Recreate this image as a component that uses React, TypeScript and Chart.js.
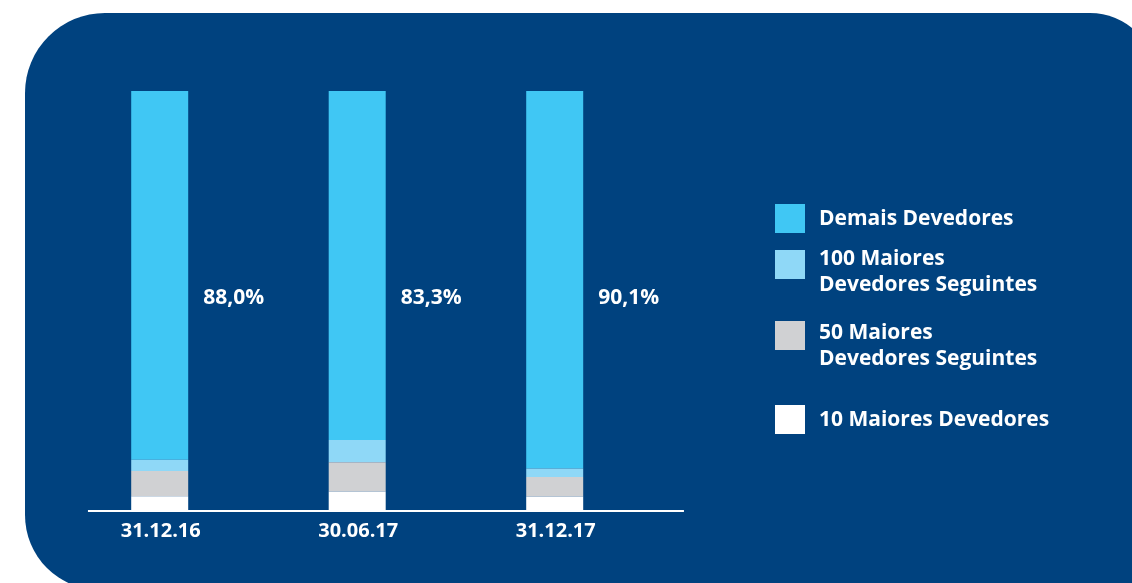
import React, { useEffect, useRef } from "react";
import { Chart, registerables } from "chart.js";

Chart.register(...registerables);

const categories = ["31.12.16", "30.06.17", "31.12.17"];
const top10 = [3.3, 4.4, 3.2];
const top50 = [6.0, 7.0, 4.7];
const top100 = [2.7, 5.3, 2.0];
const demais = [88.0, 83.3, 90.1];

const seriesNames = [
  "10 Maiores Devedores",
  "50 Maiores Devedores Seguintes",
  "100 Maiores Devedores Seguintes",
  "Demais Devedores",
];
const seriesColors = ["#FFFFFF", "#D0D1D3", "#8FD8F7", "#40C7F4"];

const FONT = "'Open Sans', sans-serif";
const BG = "#00427F";

export default function App() {
  const canvasRef = useRef<HTMLCanvasElement | null>(null);

  useEffect(() => {
    if (!canvasRef.current) return;
    const labelPlugin = {
      id: "labels",
      afterDatasetsDraw(chart: any) {
        const ctx = chart.ctx;
        const x = chart.scales.x;
        const y = chart.scales.y;
        const area = chart.chartArea;
        ctx.save();
        ctx.strokeStyle = "#FFFFFF";
        ctx.lineWidth = 2;
        ctx.beginPath();
        ctx.moveTo(area.left + 27, area.bottom + 1);
        ctx.lineTo(area.right + 30.5, area.bottom + 1);
        ctx.stroke();
        ctx.fillStyle = "#FFFFFF";
        ctx.textBaseline = "middle";
        const meta = chart.getDatasetMeta(3);
        categories.forEach((c, i) => {
          const px = x.getPixelForValue(i);
          ctx.font = `700 20px ${FONT}`;
          ctx.textAlign = "center";
          ctx.fillText(c, px + 1, area.bottom + 21);
          const bar = meta.data[i];
          ctx.font = `700 21px ${FONT}`;
          ctx.textAlign = "left";
          ctx.fillText(
            demais[i].toFixed(1).replace(".", ",") + "%",
            bar.x + bar.width / 2 + 15,
            y.getPixelForValue(50) - 2
          );
        });
        ctx.restore();
      },
    };
    const chart = new Chart(canvasRef.current, {
      type: "bar",
      data: {
        labels: categories,
        datasets: [top10, top50, top100, demais].map((d, i) => ({
          label: seriesNames[i],
          data: d,
          backgroundColor: seriesColors[i],
          borderWidth: 0,
          categoryPercentage: 1,
          barPercentage: 0.2886,
        })),
      },
      options: {
        responsive: false,
        animation: false,
        layout: { padding: { left: 60.95, right: 478.55, top: 91, bottom: 73 } },
        plugins: { legend: { display: false }, tooltip: { enabled: false } },
        scales: {
          x: { stacked: true, display: false },
          y: { stacked: true, display: false, min: 0, max: 100 },
        },
      },
      plugins: [labelPlugin],
    });
    return () => chart.destroy();
  }, []);

  const legendItems = [
    { idx: 3, boxTop: 204, textTop: 204, lines: ["Demais Devedores"] },
    { idx: 2, boxTop: 250, textTop: 244, lines: ["100 Maiores", "Devedores Seguintes"] },
    { idx: 1, boxTop: 321, textTop: 318, lines: ["50 Maiores", "Devedores Seguintes"] },
    { idx: 0, boxTop: 405, textTop: 405, lines: ["10 Maiores Devedores"] },
  ];

  return (
    <div style={{ position: "fixed", left: 0, top: 0, width: 1132, height: 583, background: "#FFFFFF", overflow: "hidden" }}>
      <div
        style={{
          position: "absolute",
          left: 25,
          top: 13,
          width: 1131,
          height: 577,
          background: BG,
          borderRadius: "80px 66px 0 75px",
        }}
      />
      <canvas ref={canvasRef} width={1132} height={583} style={{ position: "absolute", left: 0, top: 0 }} />
      {legendItems.map((it) => (
        <React.Fragment key={it.idx}>
          <div
            style={{
              position: "absolute",
              left: 775,
              top: it.boxTop,
              width: 30,
              height: 29,
              background: seriesColors[it.idx],
            }}
          />
          <div
            style={{
              position: "absolute",
              left: 819,
              top: it.textTop,
              color: "#FFFFFF",
              fontFamily: FONT,
              fontWeight: 700,
              fontSize: 21,
              lineHeight: "26px",
              whiteSpace: "nowrap",
            }}
          >
            {it.lines.map((l, k) => (
              <div key={k}>{l}</div>
            ))}
          </div>
        </React.Fragment>
      ))}
    </div>
  );
}
